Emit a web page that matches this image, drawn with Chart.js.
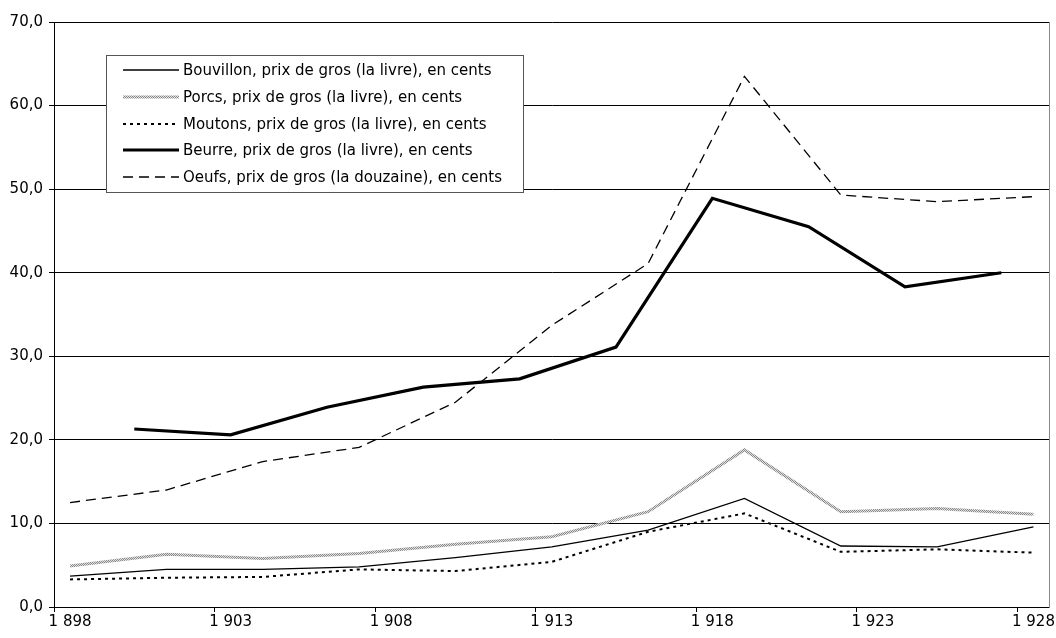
<!DOCTYPE html>
<html>
<head>
<meta charset="utf-8">
<script src="https://cdn.jsdelivr.net/npm/chart.js@4.4.1/dist/chart.umd.min.js"></script>
<style>
  html, body { margin: 0; padding: 0; background: #fff; }
  #wrap { position: relative; width: 1056px; height: 638px; }
  #legend {
    position: absolute; left: 106px; top: 55px; width: 416px; height: 136px;
    border: 1px solid #555; background: #fff;
    font-family: "DejaVu Sans"; font-size: 15px; color: #000;
  }
  .row { position: absolute; left: 0; height: 20px; display: flex; align-items: center; white-space: nowrap; }
  .row canvas { margin-left: 16px; margin-right: 4px; }
</style>
</head>
<body>
<div id="wrap">
  <canvas id="chart" width="1056" height="638"></canvas>
  <div id="legend"></div>
</div>
<script>
// category axis: one slot per year
const years = [1898, 1899, 1900, 1901, 1902, 1903, 1904, 1905, 1906, 1907, 1908,
  1909, 1910, 1911, 1912, 1913, 1914, 1915, 1916, 1917, 1918, 1919, 1920, 1921,
  1922, 1923, 1924, 1925, 1926, 1927, 1928];

// the series are only sampled every 3 years
const sampleYears = [1898, 1901, 1904, 1907, 1910, 1913, 1916, 1919, 1922, 1925, 1928];
const butterYears = [1900, 1903, 1906, 1909, 1912, 1915, 1918, 1921, 1924, 1927];

const bouvillon = [3.7, 4.5, 4.5, 4.8, 5.9, 7.2, 9.2, 13.0, 7.3, 7.2, 9.6];
const porcs = [4.9, 6.3, 5.8, 6.4, 7.5, 8.4, 11.4, 18.8, 11.4, 11.8, 11.1];
const moutons = [3.3, 3.5, 3.6, 4.5, 4.3, 5.4, 9.0, 11.2, 6.6, 6.9, 6.5];
const beurre = [21.3, 20.6, 23.9, 26.3, 27.3, 31.1, 48.9, 45.5, 38.3, 40.0];
const oeufs = [12.5, 14.0, 17.4, 19.1, 24.5, 33.7, 41.1, 63.5, 49.3, 48.5, 49.1];

const FONT = '"DejaVu Sans"';

function spread(at, values) {
  return years.map((y) => {
    const i = at.indexOf(y);
    return i < 0 ? null : values[i];
  });
}

function fmtYear(y) {
  return String(y).replace(/\B(?=(\d{3})+(?!\d))/g, ' ');
}

function greyPattern() {
  const c = document.createElement('canvas');
  c.width = 2; c.height = 2;
  const g = c.getContext('2d');
  g.fillStyle = '#e0e0e0';
  g.fillRect(0, 0, 2, 2);
  g.fillStyle = '#888';
  g.fillRect(0, 0, 1, 1);
  g.fillRect(1, 1, 1, 1);
  return g.createPattern(c, 'repeat');
}

const datasets = [
  { label: 'Bouvillon, prix de gros (la livre), en cents', data: spread(sampleYears, bouvillon),
    borderColor: '#000', borderWidth: 1.3, borderDash: [] },
  { label: 'Porcs, prix de gros (la livre), en cents', data: spread(sampleYears, porcs),
    borderColor: greyPattern(), borderWidth: 3, borderDash: [] },
  { label: 'Moutons, prix de gros (la livre), en cents', data: spread(sampleYears, moutons),
    borderColor: '#000', borderWidth: 2, borderDash: [3, 4] },
  { label: 'Beurre, prix de gros (la livre), en cents', data: spread(butterYears, beurre),
    borderColor: '#000', borderWidth: 3.2, borderDash: [] },
  { label: 'Oeufs, prix de gros (la douzaine), en cents', data: spread(sampleYears, oeufs),
    borderColor: '#000', borderWidth: 1.3, borderDash: [10, 6] },
];

new Chart(document.getElementById('chart'), {
  type: 'line',
  data: { labels: years, datasets },
  options: {
    responsive: false,
    animation: false,
    spanGaps: true,
    layout: { padding: { top: 22, right: 5, left: 0, bottom: 0 } },
    elements: {
      point: { radius: 0, hoverRadius: 0 },
      line: { tension: 0, fill: false, borderCapStyle: 'butt', borderJoinStyle: 'miter' },
    },
    plugins: { legend: { display: false }, tooltip: { enabled: false } },
    scales: {
      x: {
        offset: true,
        afterFit: (s) => { s.height = 31; },
        border: { color: '#000', width: 1 },
        grid: {
          offset: true,
          drawOnChartArea: false,
          drawTicks: true,
          tickLength: 5,
          color: (c) => (c.index % 5 === 0 ? '#000' : 'rgba(0,0,0,0)'),
        },
        ticks: {
          autoSkip: false,
          maxRotation: 0,
          padding: 1,
          color: '#000',
          font: { family: FONT, size: 15 },
          callback: (v, i) => (i % 5 === 0 ? fmtYear(years[i]) : ''),
        },
      },
      y: {
        min: 0,
        max: 70,
        afterFit: (s) => { s.width = 54; },
        border: { color: '#000', width: 1 },
        grid: { color: '#000', lineWidth: 1, tickLength: 5 },
        ticks: {
          stepSize: 10,
          padding: 6,
          color: '#000',
          font: { family: FONT, size: 15 },
          callback: (v) => v.toFixed(1).replace('.', ','),
        },
      },
      right: {
        position: 'right',
        afterFit: (s) => { s.width = 0; },
        border: { color: '#888', width: 1 },
        grid: { drawOnChartArea: false, drawTicks: false },
        ticks: { display: false },
      },
    },
  },
});

// legend box drawn as html, with the same line styles
const legend = document.getElementById('legend');
datasets.forEach((ds, i) => {
  const row = document.createElement('div');
  row.className = 'row';
  row.style.top = (4 + i * 26.8) + 'px';
  const c = document.createElement('canvas');
  c.width = 56; c.height = 20;
  const g = c.getContext('2d');
  g.lineWidth = ds.borderWidth;
  g.setLineDash(ds.borderDash);
  g.strokeStyle = i === 1 ? greyPattern() : ds.borderColor;
  g.beginPath();
  g.moveTo(0, 10);
  g.lineTo(56, 10);
  g.stroke();
  row.appendChild(c);
  const span = document.createElement('span');
  span.textContent = ds.label;
  row.appendChild(span);
  legend.appendChild(row);
});
</script>
</body>
</html>
